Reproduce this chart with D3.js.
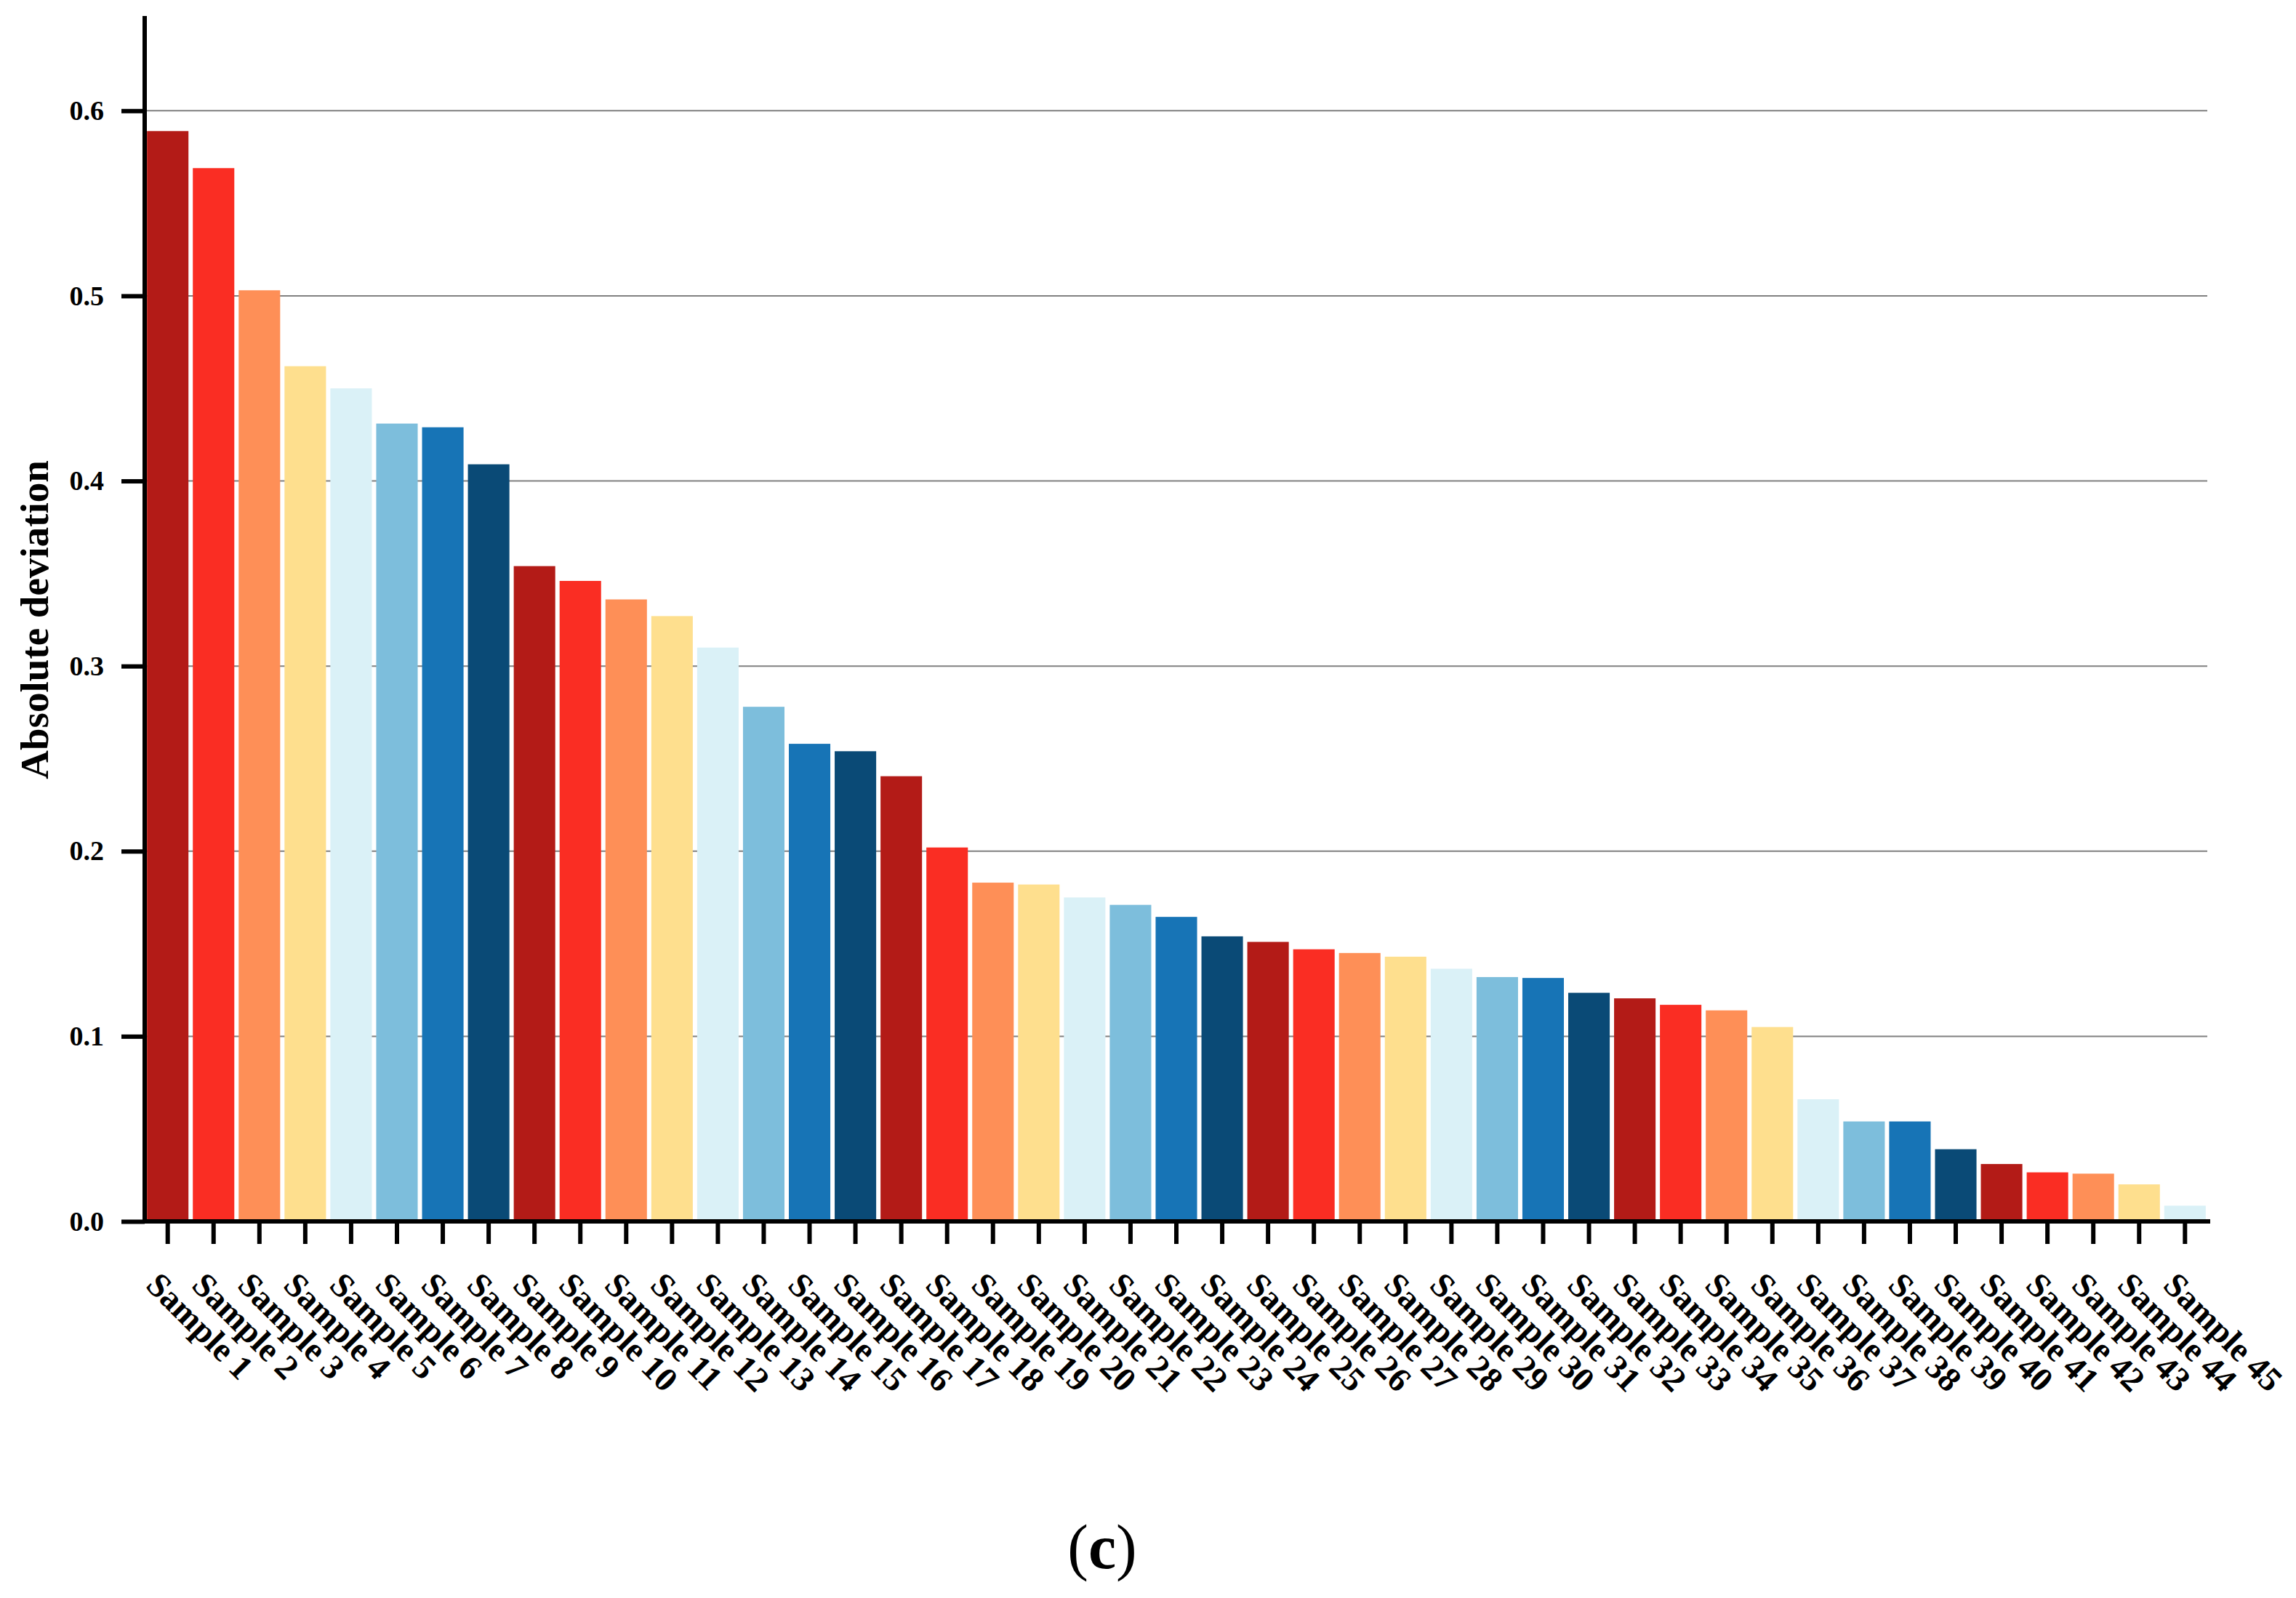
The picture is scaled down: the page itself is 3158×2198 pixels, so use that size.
<!DOCTYPE html>
<html>
<head>
<meta charset="utf-8">
<script src="https://cdn.jsdelivr.net/npm/d3@7"></script>
<style>
  body { margin: 0; background: #fff; }
  text { font-family: "Liberation Serif", "Times New Roman", serif; }
</style>
</head>
<body>
<svg id="chart"></svg>
<script>
const width = 3158;
const height = 2198;

// data
var samples = d3.range(1, 46).map(function (i) { return "Sample " + i; });
var deviation = [
    0.589, 0.569, 0.503, 0.462, 0.450, 0.431, 0.429, 0.409, 0.354, 0.346,
    0.336, 0.327, 0.310, 0.278, 0.258, 0.254, 0.2405, 0.202, 0.183, 0.182,
    0.175, 0.171, 0.1645, 0.154, 0.151, 0.147, 0.145, 0.143, 0.1365, 0.132,
    0.1315, 0.1235, 0.1205, 0.117, 0.114, 0.105, 0.066, 0.054, 0.054, 0.039,
    0.031, 0.0265, 0.0258, 0.020, 0.0085
];
var yTicks = [0, 0.1, 0.2, 0.3, 0.4, 0.5, 0.6];
var palette = ["#b31b17", "#fa2d23", "#fe8f57", "#fedf8e", "#daf1f7", "#7dbedc", "#1774b6", "#0a4a76"];

var svg = d3.select("#chart").attr("width", width).attr("height", height);

var x = d3.scaleBand()
    .domain(samples)
    .range([199, 3037])
    .paddingInner(0.095)
    .paddingOuter(0.05);

var y = d3.scaleLinear()
    .domain([0, 0.65])
    .range([1680, 25]);

var color = d3.scaleOrdinal().domain(samples).range(palette);

// grid lines
svg.append("g")
    .selectAll("line")
    .data(yTicks.filter(function (d) { return d > 0; }))
    .join("line")
    .attr("x1", x.range()[0])
    .attr("x2", x.range()[1] - 1)
    .attr("y1", function (d) { return y(d); })
    .attr("y2", function (d) { return y(d); })
    .attr("stroke", "#808080")
    .attr("stroke-width", 2);

// bars
svg.append("g")
    .selectAll("rect")
    .data(deviation)
    .join("rect")
    .attr("x", function (d, i) { return x(samples[i]); })
    .attr("y", function (d) { return y(d); })
    .attr("width", x.bandwidth())
    .attr("height", function (d) { return y(0) - y(d) - 3; })
    .attr("fill", function (d, i) { return color(samples[i]); });

// y axis
var yAxis = svg.append("g")
    .attr("transform", "translate(" + x.range()[0] + ",0)")
    .call(d3.axisLeft(y).tickValues(yTicks).tickSize(32).tickPadding(24).tickSizeOuter(0).tickFormat(d3.format(".1f")));
yAxis.select(".domain").remove();
yAxis.selectAll(".tick line").attr("stroke", "#000").attr("stroke-width", 6);
yAxis.selectAll(".tick text")
    .attr("fill", "#000")
    .style("font-size", "38px")
    .style("font-weight", "bold");

// x axis
var xAxis = svg.append("g")
    .attr("transform", "translate(0," + y(0) + ")")
    .call(d3.axisBottom(x).tickSize(31).tickSizeOuter(0));
xAxis.select(".domain").remove();
xAxis.selectAll(".tick line").attr("stroke", "#000").attr("stroke-width", 6);
xAxis.selectAll(".tick text")
    .attr("x", 0).attr("y", 0).attr("dy", 0)
    .attr("fill", "#000")
    .attr("text-anchor", "start")
    .attr("transform", "translate(-32,90) rotate(45)")
    .style("font-size", "47px")
    .style("font-weight", "bold");

// axis lines
svg.append("line")
    .attr("x1", x.range()[0]).attr("x2", x.range()[0])
    .attr("y1", y.range()[1] - 3).attr("y2", y(0) + 3)
    .attr("stroke", "#000").attr("stroke-width", 6);
svg.append("line")
    .attr("x1", x.range()[0] - 3).attr("x2", x.range()[1] + 3)
    .attr("y1", y(0)).attr("y2", y(0))
    .attr("stroke", "#000").attr("stroke-width", 6);

// y title
svg.append("text")
    .attr("transform", "translate(66," + (y(0) + y(0.65)) / 2 + ") rotate(-90)")
    .attr("text-anchor", "middle")
    .style("font-size", "55px")
    .style("font-weight", "bold")
    .text("Absolute deviation");

// panel label
var cap = svg.append("text")
    .attr("x", 1516)
    .attr("y", 2157)
    .attr("text-anchor", "middle")
    .style("font-size", "86px");
cap.append("tspan").text("(");
cap.append("tspan").style("font-weight", "bold").text("c");
cap.append("tspan").text(")");
</script>
</body>
</html>
